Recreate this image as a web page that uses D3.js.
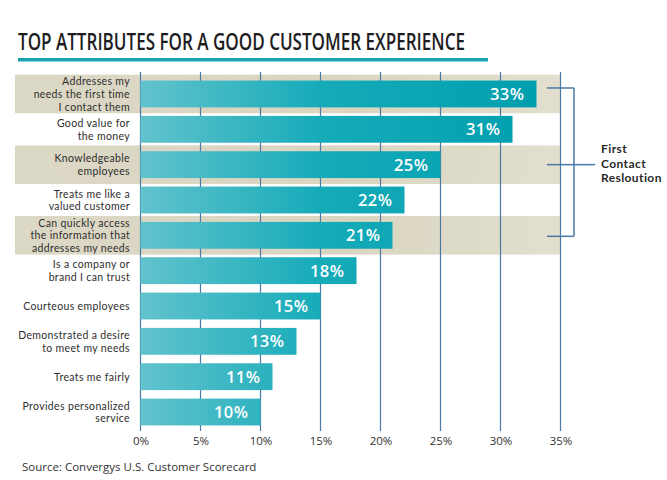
<!DOCTYPE html>
<html>
<head>
<meta charset="utf-8">
<script src="https://cdn.jsdelivr.net/npm/d3@7"></script>
<style>
  body { margin: 0; background: #fff; }
  svg { display: block; font-family: "Open Sans", sans-serif; }
</style>
</head>
<body>
<script>
"use strict";
// data
var categories = [
  ["Addresses my", "needs the first time", "I contact them"],
  ["Good value for", "the money"],
  ["Knowledgeable", "employees"],
  ["Treats me like a", "valued customer"],
  ["Can quickly access", "the information that", "addresses my needs"],
  ["Is a company or", "brand I can trust"],
  ["Courteous employees"],
  ["Demonstrated a desire", "to meet my needs"],
  ["Treats me fairly"],
  ["Provides personalized", "service"]
];
var values = [33, 31, 25, 22, 21, 18, 15, 13, 11, 10];
var ticks = [0, 5, 10, 15, 20, 25, 30, 35];
var shadedRows = [0, 2, 4];
var bracketRows = [0, 2, 4];
var bracketLabel = ["First", "Contact", "Resloution"];

var W = 667, H = 480;
var svg = d3.select("body").append("svg").attr("width", W).attr("height", H);

var defs = svg.append("defs");
var bg = defs.append("linearGradient").attr("id", "barGrad")
    .attr("gradientUnits", "userSpaceOnUse")
    .attr("x1", 140).attr("x2", 540).attr("y1", 0).attr("y2", 0);
bg.append("stop").attr("offset", "0%").attr("stop-color", "#62c3cd");
bg.append("stop").attr("offset", "45%").attr("stop-color", "#16abb9");
bg.append("stop").attr("offset", "100%").attr("stop-color", "#009fae");
var sg = defs.append("linearGradient").attr("id", "bandGrad")
    .attr("gradientUnits", "userSpaceOnUse")
    .attr("x1", 15).attr("x2", 561).attr("y1", 0).attr("y2", 0);
sg.append("stop").attr("offset", "0%").attr("stop-color", "#dcd8c6");
sg.append("stop").attr("offset", "60%").attr("stop-color", "#d9d5c0");
sg.append("stop").attr("offset", "100%").attr("stop-color", "#e2dfcf");

var x = d3.scaleLinear().domain([0, 35]).range([140.5, 560.5]);
var y = d3.scaleBand().domain(d3.range(values.length))
    .range([76.3, 429.7]).paddingInner(0.24).paddingOuter(0.12);
var rowCenter = function(i) { return y(i) + y.bandwidth() / 2; };

// title
svg.append("text")
    .attr("x", 18).attr("y", 50)
    .attr("textLength", 447).attr("lengthAdjust", "spacingAndGlyphs")
    .style("font-size", "24px").style("font-weight", 600)
    .style("fill", "#1d1d1f")
    .text("TOP ATTRIBUTES FOR A GOOD CUSTOMER EXPERIENCE");
svg.append("rect").attr("x", 18).attr("y", 58).attr("width", 470).attr("height", 3.5)
    .attr("fill", "#19a2b0");

// shaded rows
svg.selectAll("rect.band").data(shadedRows).enter().append("rect")
    .attr("class", "band")
    .attr("x", 15).attr("width", x(35) - 15)
    .attr("y", function(i) { return rowCenter(i) - 19.3; })
    .attr("height", 38.6)
    .attr("fill", "url(#bandGrad)");

// grid lines
svg.selectAll("line.grid").data(ticks).enter().append("line")
    .attr("class", "grid")
    .attr("x1", function(d) { return x(d); }).attr("x2", function(d) { return x(d); })
    .attr("y1", 72).attr("y2", 431)
    .attr("stroke", "#4a79a6").attr("stroke-width", 1.2);

// axis labels
var axis = d3.axisBottom(x).tickValues(ticks).tickSize(0).tickPadding(0)
    .tickFormat(function(d) { return d + "%"; });
var ag = svg.append("g").attr("transform", "translate(0,437)").call(axis);
ag.select(".domain").remove();
ag.selectAll("text").style("font-size", "11.5px").style("fill", "#333")
    .style("font-family", "'Open Sans', sans-serif");

// bars
svg.selectAll("rect.bar").data(values).enter().append("rect")
    .attr("class", "bar")
    .attr("x", x(0))
    .attr("y", function(d, i) { return y(i); })
    .attr("width", function(d) { return x(d) - x(0); })
    .attr("height", y.bandwidth())
    .attr("fill", "url(#barGrad)");

// value labels
svg.selectAll("text.val").data(values).enter().append("text")
    .attr("class", "val")
    .attr("x", function(d) { return x(d) - 12; })
    .attr("y", function(d, i) { return rowCenter(i) + 6; })
    .attr("text-anchor", "end")
    .style("font-size", "16.5px").style("font-weight", 600)
    .style("letter-spacing", "0.5px")
    .style("fill", "#fff")
    .text(function(d) { return d + "%"; });

// category labels
var lh = 12.6;
categories.forEach(function(lines, i) {
  var t = svg.append("text")
      .attr("text-anchor", "end")
      .style("font-family", "Lato, sans-serif")
      .style("font-size", "10.5px").style("letter-spacing", "0.35px")
      .style("fill", "#2e2e2e");
  var y0 = rowCenter(i) - (lines.length - 1) * lh / 2 + 4;
  lines.forEach(function(s, k) {
    t.append("tspan").attr("x", 130).attr("y", y0 + k * lh).text(s);
  });
});

// bracket
var bx = 574;
var bys = bracketRows.map(function(i) { return rowCenter(i) - 6; });
bys[1] = rowCenter(bracketRows[1]);
bys[2] = rowCenter(bracketRows[2]) + 1;
var br = svg.append("g").attr("stroke", "#4a79a6").attr("stroke-width", 1.5).attr("fill", "none");
br.append("line").attr("x1", bx).attr("x2", bx).attr("y1", bys[0]).attr("y2", bys[2]);
bys.forEach(function(v) {
  br.append("line").attr("x1", 547).attr("x2", bx).attr("y1", v).attr("y2", v);
});
br.append("line").attr("x1", bx).attr("x2", 595).attr("y1", bys[1]).attr("y2", bys[1]);

var bl = svg.append("text").style("font-family", "Lato, sans-serif")
    .style("font-size", "12px").style("font-weight", 700).style("letter-spacing", "0.4px")
    .style("fill", "#2a2a2a");
bracketLabel.forEach(function(s, k) {
  bl.append("tspan").attr("x", 601).attr("y", 153 + k * 14.5).text(s);
});

// source
svg.append("text").attr("x", 22).attr("y", 471)
    .style("font-size", "11.5px").style("fill", "#333")
    .text("Source: Convergys U.S. Customer Scorecard");
</script>
</body>
</html>
